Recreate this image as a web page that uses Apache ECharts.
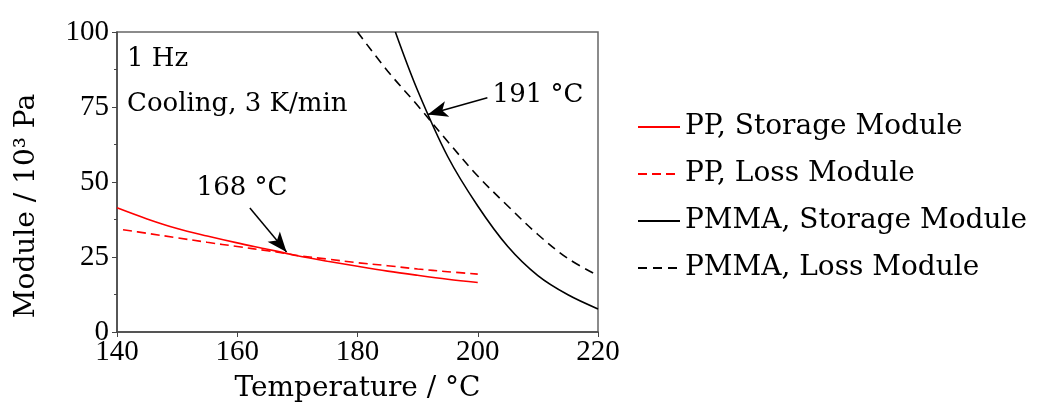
<!DOCTYPE html>
<html>
<head>
<meta charset="utf-8">
<script src="https://cdn.jsdelivr.net/npm/echarts@6/dist/echarts.min.js"></script>
<style>
html, body { margin: 0; padding: 0; background: #fff; }
#chart { width: 1038px; height: 408px; }
</style>
</head>
<body>
<div id="chart"></div>
<script>
// values
const ppTemp = [140, 145, 150, 155, 160, 165, 168, 170, 175, 180, 185, 190, 195, 200]
const ppStorage = [41.4, 37.7, 34.5, 32.0, 29.7, 27.6, 26.3, 25.4, 23.6, 21.9, 20.3, 18.9, 17.6, 16.5]
const ppLossTemp = [141, 145, 150, 155, 160, 165, 168, 170, 175, 180, 185, 190, 195, 200]
const ppLoss = [34.1, 32.9, 31.4, 29.9, 28.5, 27.1, 26.2, 25.5, 24.3, 23.1, 22.1, 21.0, 20.1, 19.3]
const pmmaStorageTemp = [186.3, 190, 195, 200, 205, 210, 215, 220]
const pmmaStorage = [100, 80.5, 58.5, 42, 28.5, 18.8, 12.4, 7.7]
const pmmaLossTemp = [180, 185, 190, 195, 200, 205, 210, 215, 220]
const pmmaLoss = [100, 87, 75.5, 63.5, 52, 42, 32.5, 24.5, 18.8]

const seriesNames = ['PP, Storage Module', 'PP, Loss Module', 'PMMA, Storage Module', 'PMMA, Loss Module']
const xTicks = { min: 140, max: 220, interval: 20 }
const yTicks = { min: 0, max: 100, interval: 25 }

// arrows: [from, to] in data coordinates
const arrow168 = [[162.1, 41.3], [168.2, 26.7]]
const arrow191 = [[201.6, 78.1], [191.7, 72.5]]

const serif = 'DejaVu Serif'
const tickFont = 'Liberation Serif'

const zip = (xs, ys) => xs.map((x, i) => [x, ys[i]])

function arrowMark(pts) {
  return {
    silent: true,
    symbol: ['none', 'arrow'],
    symbolSize: [12, 20],
    lineStyle: { color: '#000', width: 1.5, type: 'solid' },
    label: { show: false },
    emphasis: { disabled: true },
    animation: false,
    data: [[{ coord: pts[0] }, { coord: pts[1] }]]
  }
}

function curve(name, data, color, dash, mark) {
  const s = {
    name,
    type: 'line',
    data,
    symbol: 'none',
    smooth: 0.35,
    lineStyle: { color, width: 1.6, type: dash || 'solid' },
    itemStyle: { color }
  }
  if (mark) s.markLine = arrowMark(mark)
  return s
}

const chart = echarts.init(document.getElementById('chart'))

chart.setOption({
  animation: false,
  grid: {
    left: 117, right: 440, top: 32, bottom: 74,
    show: true, borderColor: '#666', borderWidth: 1.5
  },
  legend: {
    orient: 'vertical',
    left: 632,
    top: 108,
    itemWidth: 42,
    itemHeight: 14,
    itemGap: 19,
    itemStyle: { opacity: 0 },
    textStyle: { fontFamily: serif, fontSize: 28, color: '#000' },
    data: seriesNames
  },
  xAxis: {
    type: 'value',
    ...xTicks,
    name: 'Temperature / °C',
    nameLocation: 'middle',
    nameGap: 43,
    nameTextStyle: { fontFamily: serif, fontSize: 28, color: '#000' },
    axisLine: { lineStyle: { color: '#444', width: 1.5 } },
    axisTick: { inside: false, length: 5, lineStyle: { color: '#444' } },
    axisLabel: { fontFamily: tickFont, fontSize: 29, color: '#000', margin: 6 },
    splitLine: { show: false }
  },
  yAxis: {
    type: 'value',
    ...yTicks,
    axisLine: { show: true, lineStyle: { color: '#444', width: 1.5 } },
    axisTick: { show: true, inside: false, length: 5, lineStyle: { color: '#444' } },
    minorTick: { show: true, splitNumber: 2, length: 3, lineStyle: { color: '#444' } },
    axisLabel: { fontFamily: tickFont, fontSize: 29, color: '#000', margin: 8 },
    splitLine: { show: false }
  },
  series: [
    curve(seriesNames[0], zip(ppTemp, ppStorage), '#ff0000', null, arrow168),
    curve(seriesNames[1], zip(ppLossTemp, ppLoss), '#ff0000', [9, 5]),
    curve(seriesNames[2], zip(pmmaStorageTemp, pmmaStorage), '#000', null, arrow191),
    curve(seriesNames[3], zip(pmmaLossTemp, pmmaLoss), '#000', [9, 6])
  ],
  graphic: [
    {
      type: 'text', x: 27, y: 206, rotation: Math.PI / 2,
      style: { text: 'Module / 10³ Pa', font: '28px "DejaVu Serif"', fill: '#000', align: 'center', verticalAlign: 'middle' }
    },
    {
      type: 'text', x: 127, y: 59,
      style: { text: '1 Hz', font: '26px "DejaVu Serif"', fill: '#000', align: 'left', verticalAlign: 'middle' }
    },
    {
      type: 'text', x: 127, y: 104,
      style: { text: 'Cooling, 3 K/min', font: '26px "DejaVu Serif"', fill: '#000', align: 'left', verticalAlign: 'middle' }
    },
    {
      type: 'text', x: 242, y: 188,
      style: { text: '168 °C', font: '26px "DejaVu Serif"', fill: '#000', align: 'center', verticalAlign: 'middle' }
    },
    {
      type: 'text', x: 538, y: 95,
      style: { text: '191 °C', font: '26px "DejaVu Serif"', fill: '#000', align: 'center', verticalAlign: 'middle' }
    }
  ]
})
</script>
</body>
</html>
